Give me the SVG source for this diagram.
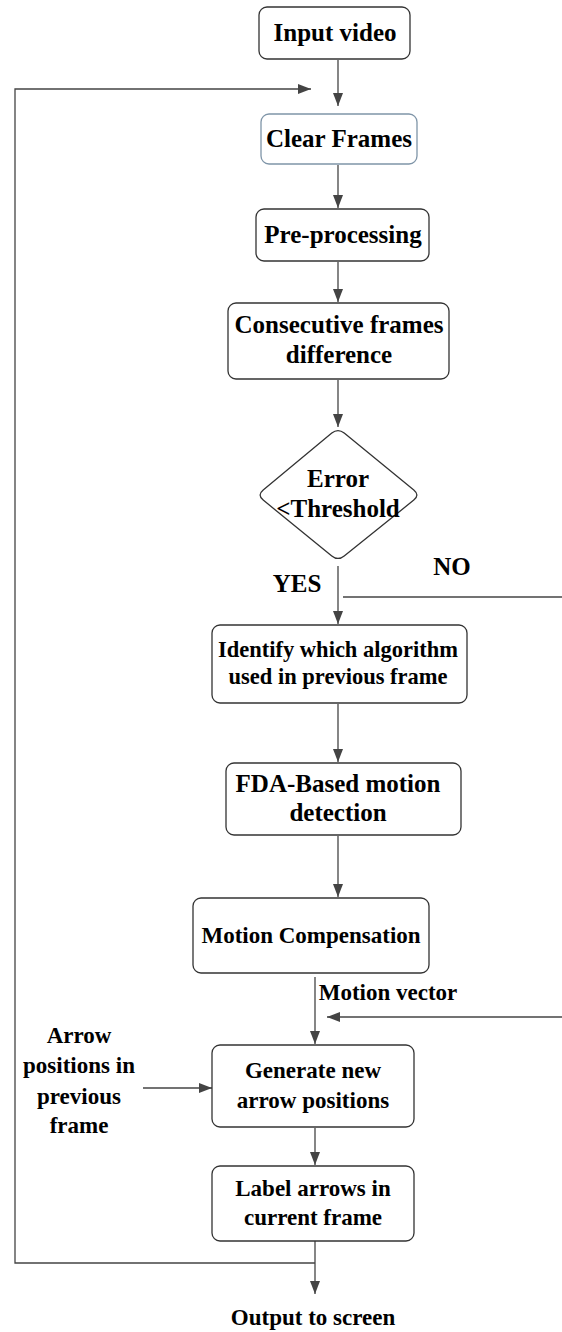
<svg xmlns="http://www.w3.org/2000/svg" width="562" height="1332" viewBox="0 0 562 1332">
<style>
.box{fill:#fff;stroke:#333;stroke-width:1.3}
.boxb{fill:#fff;stroke:#7f95a8;stroke-width:1.3}
.t{font-family:"Liberation Serif","Times New Roman",serif;font-weight:bold;fill:#000;text-anchor:middle}
.s25{font-size:25px}
.s23{font-size:23px}
.s22{font-size:22.5px}
.ln{fill:none;stroke:#444;stroke-width:1.3}
</style>
<defs>
<marker id="ah" markerUnits="userSpaceOnUse" markerWidth="14" markerHeight="12" refX="13" refY="5" orient="auto">
<path d="M0,0 L13,5 L0,10 Z" fill="#444"/>
</marker>
</defs>
<rect width="562" height="1332" fill="#fff"/>
<g id="connectors">
<line class="ln" x1="338" y1="60" x2="338" y2="106" marker-end="url(#ah)"/>
<path class="ln" d="M315,1263 H15 V89 H311" marker-end="url(#ah)"/>
<line class="ln" x1="338" y1="165" x2="338" y2="208" marker-end="url(#ah)"/>
<line class="ln" x1="338" y1="262" x2="338" y2="302" marker-end="url(#ah)"/>
<line class="ln" x1="338" y1="380" x2="338" y2="427" marker-end="url(#ah)"/>
<line class="ln" x1="338" y1="566" x2="338" y2="624" marker-end="url(#ah)"/>
<line class="ln" x1="562" y1="597" x2="343" y2="597"/>
<line class="ln" x1="338" y1="704" x2="338" y2="762" marker-end="url(#ah)"/>
<line class="ln" x1="338" y1="836" x2="338" y2="897" marker-end="url(#ah)"/>
<line class="ln" x1="315" y1="977" x2="315" y2="1044" marker-end="url(#ah)"/>
<line class="ln" x1="562" y1="1017" x2="327" y2="1017" marker-end="url(#ah)"/>
<line class="ln" x1="143" y1="1088" x2="212" y2="1088" marker-end="url(#ah)"/>
<line class="ln" x1="315" y1="1128" x2="315" y2="1165" marker-end="url(#ah)"/>
<line class="ln" x1="315" y1="1241" x2="315" y2="1294" marker-end="url(#ah)"/>
</g>
<g id="input-video">
<rect class="box" x="259" y="7" width="151" height="52" rx="8"/>
<text class="t s25" x="335" y="41">Input video</text>
</g>
<g id="clear-frames">
<rect class="boxb" x="261" y="114" width="156" height="50" rx="8"/>
<text class="t s25" x="339" y="147">Clear Frames</text>
</g>
<g id="pre-processing">
<rect class="box" x="256" y="209" width="173" height="52" rx="8"/>
<text class="t s25" x="343" y="243">Pre-processing</text>
</g>
<g id="consecutive">
<rect class="box" x="228" y="303" width="221" height="76" rx="8"/>
<text class="t s25" x="339" y="333">Consecutive frames</text>
<text class="t s25" x="339" y="363">difference</text>
</g>
<g id="decision">
<path class="box" d="M331.8,433.1 Q338,428 344.2,433.1 L413.8,489.9 Q420,495 413.8,500.1 L344.2,555.9 Q338,561 331.8,555.9 L263.2,500.1 Q257,495 263.2,489.9 Z"/>
<text class="t s25" x="338" y="487">Error</text>
<text class="t s25" x="338" y="517">&lt;Threshold</text>
</g>
<g id="labels-yes-no">
<text class="t s25" x="297" y="592">YES</text>
<text class="t s25" x="452" y="575">NO</text>
</g>
<g id="identify">
<rect class="box" x="212" y="625" width="255" height="78" rx="8"/>
<text class="t s22" x="338" y="657">Identify which algorithm</text>
<text class="t s22" x="338" y="684">used in previous frame</text>
</g>
<g id="fda">
<rect class="box" x="226" y="763" width="235" height="72" rx="8"/>
<text class="t s25" x="338" y="792">FDA-Based motion</text>
<text class="t s25" x="338" y="821">detection</text>
</g>
<g id="motion-compensation">
<rect class="box" x="193" y="898" width="236" height="75" rx="8"/>
<text class="t s23" x="311" y="943">Motion Compensation</text>
</g>
<g id="motion-vector-label">
<text class="t s23" x="388" y="1000">Motion vector</text>
</g>
<g id="arrow-positions-label">
<text class="t s23" x="79" y="1043">Arrow</text>
<text class="t s23" x="79" y="1073">positions in</text>
<text class="t s23" x="79" y="1104">previous</text>
<text class="t s23" x="79" y="1133">frame</text>
</g>
<g id="generate">
<rect class="box" x="212" y="1045" width="202" height="82" rx="8"/>
<text class="t s23" x="313" y="1078">Generate new</text>
<text class="t s23" x="313" y="1108">arrow positions</text>
</g>
<g id="label-arrows">
<rect class="box" x="212" y="1166" width="202" height="75" rx="8"/>
<text class="t s23" x="313" y="1196">Label arrows in</text>
<text class="t s23" x="313" y="1225">current frame</text>
</g>
<g id="output">
<text class="t s23" x="313" y="1325">Output to screen</text>
</g>
</svg>
